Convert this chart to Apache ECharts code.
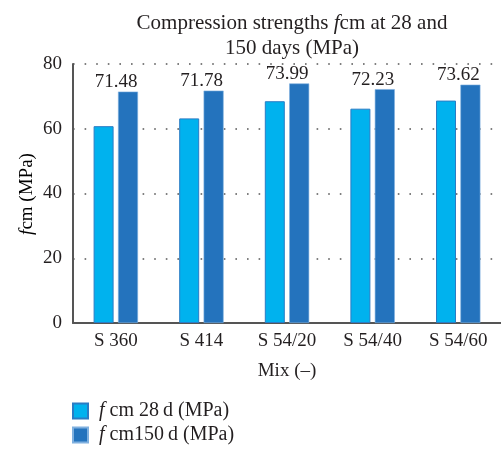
<!DOCTYPE html>
<html>
<head>
<meta charset="utf-8">
<script src="https://cdn.jsdelivr.net/npm/echarts@6/dist/echarts.min.js"></script>
<style>
  html, body { margin: 0; padding: 0; background: #fff; }
  #chart { width: 501px; height: 452px; }
</style>
</head>
<body>
<div id="chart"></div>
<script>
// Mix designs along the x axis
const mixes = ['S 360', 'S 414', 'S 54/20', 'S 54/40', 'S 54/60'];
// Mean compressive strength after 28 days (MPa)
const fcm28 = [60.8, 63.2, 68.5, 66.2, 68.7];
// Mean compressive strength after 150 days (MPa)
const fcm150 = [71.48, 71.78, 73.99, 72.23, 73.62];
// Value axis ticks
const yTicks = [0, 20, 40, 60, 80];

const FONT = 'Liberation Serif';
const TXT = '#231f20';
function richSet(size, lh) {
  return {
    n: { fontFamily: FONT, fontSize: size, color: TXT, fontWeight: 'normal', lineHeight: lh },
    i: { fontFamily: FONT, fontSize: size, color: TXT, fontWeight: 'normal', fontStyle: 'italic', lineHeight: lh }
  };
}
const legendRich = richSet(20, 20);
legendRich.i.padding = [0, 0, 0, 6];

const chart = echarts.init(document.getElementById('chart'), null, { renderer: 'canvas' });
chart.setOption({
  animation: false,
  backgroundColor: '#ffffff',
  title: {
    text: '{n|Compression strengths }{i|f}{n|cm at 28 and}\n{n|150 days (MPa)}',
    left: 287,
    textAlign: 'center',
    top: 6,
    textStyle: { rich: richSet(21, 25), fontWeight: 'normal' }
  },
  // vertical title of the value axis
  graphic: [{
    type: 'text',
    x: 27,
    y: 194,
    rotation: Math.PI / 2,
    style: {
      text: '{i|f}{n|cm (MPa)}',
      rich: richSet(19, 20),
      align: 'center',
      verticalAlign: 'middle'
    }
  }],
  legend: {
    orient: 'vertical',
    left: 67,
    top: 396,
    height: 54,
    icon: 'rect',
    itemWidth: 15,
    itemHeight: 15,
    itemGap: 4,
    data: ['fcm 28d', 'fcm150d'],
    formatter: function (name) {
      return name === 'fcm 28d'
        ? '{i|f }{n|cm 28\u2009d (MPa)}'
        : '{i|f }{n|cm150\u2009d (MPa)}';
    },
    textStyle: { rich: legendRich }
  },
  grid: { left: 73, right: -4, top: 64, bottom: 129, containLabel: false },
  xAxis: {
    type: 'category',
    data: mixes,
    name: 'Mix (\u2013)',
    nameLocation: 'middle',
    nameGap: 39,
    nameTextStyle: { fontFamily: FONT, fontSize: 19, color: TXT },
    axisLine: { lineStyle: { color: '#555', width: 2 } },
    axisTick: { show: false },
    axisLabel: { fontFamily: FONT, fontSize: 19, color: TXT, margin: 9 }
  },
  yAxis: {
    type: 'value',
    min: yTicks[0],
    max: yTicks[yTicks.length - 1],
    interval: 20,
    axisLine: { show: true, lineStyle: { color: '#555', width: 2 } },
    axisTick: { show: false },
    axisLabel: { fontFamily: FONT, fontSize: 19, color: TXT, margin: 11 },
    splitLine: { show: true, lineStyle: { color: '#555', width: 1.6, type: [1.6, 10] } }
  },
  series: [
    {
      name: 'fcm 28d',
      type: 'bar',
      data: fcm28,
      barWidth: 20,
      barGap: '22%',
      itemStyle: { color: '#00b2ee', borderColor: '#2a7cc4', borderWidth: 1 }
    },
    {
      name: 'fcm150d',
      type: 'bar',
      data: fcm150,
      barWidth: 20,
      itemStyle: { color: '#2473bd', borderColor: '#7fb0df', borderWidth: 0.6 },
      label: {
        show: true,
        position: 'top',
        distance: 0,
        offset: [-12, 0],
        fontFamily: FONT,
        fontSize: 19,
        color: TXT,
        formatter: function (p) { return p.value.toFixed(2); }
      }
    }
  ]
});
</script>
</body>
</html>
